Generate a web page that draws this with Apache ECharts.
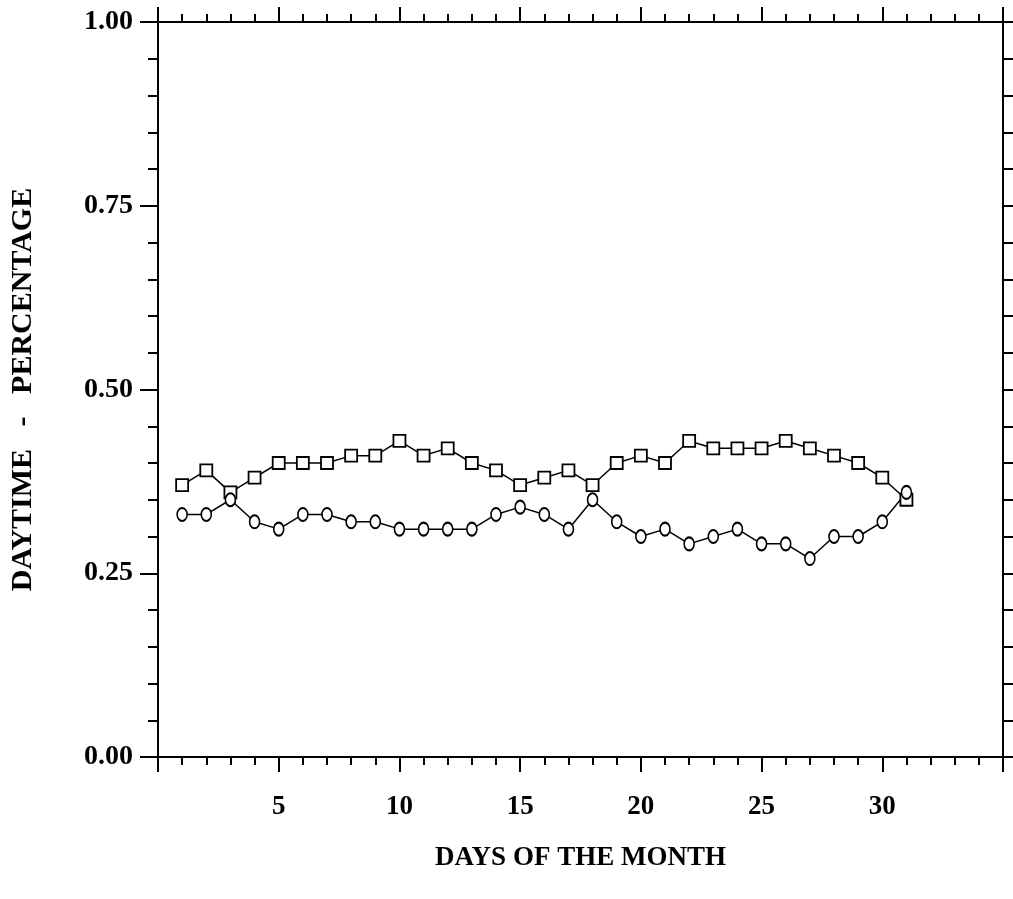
<!DOCTYPE html>
<html>
<head>
<meta charset="utf-8">
<script src="https://cdn.jsdelivr.net/npm/echarts@6/dist/echarts.min.js"></script>
<style>
html,body{margin:0;padding:0;background:#fff;}
#chart{width:1013px;height:899px;}
</style>
</head>
<body>
<div id="chart"></div>
<script>
var days = [1,2,3,4,5,6,7,8,9,10,11,12,13,14,15,16,17,18,19,20,21,22,23,24,25,26,27,28,29,30,31];
var squareValues = [0.37,0.39,0.36,0.38,0.40,0.40,0.40,0.41,0.41,0.43,0.41,0.42,0.40,0.39,0.37,0.38,0.39,0.37,0.40,0.41,0.40,0.43,0.42,0.42,0.42,0.43,0.42,0.41,0.40,0.38,0.35];
var circleValues = [0.33,0.33,0.35,0.32,0.31,0.33,0.33,0.32,0.32,0.31,0.31,0.31,0.31,0.33,0.34,0.33,0.31,0.35,0.32,0.30,0.31,0.29,0.30,0.31,0.29,0.29,0.27,0.30,0.30,0.32,0.36];
var xTickLabels = ['5','10','15','20','25','30'];
var yTickLabels = ['0.00','0.25','0.50','0.75','1.00'];
var xTitle = 'DAYS OF THE MONTH';
var yTitle = 'DAYTIME   -   PERCENTAGE';

function pairs(xs, ys){ return xs.map(function(x,i){ return [x, ys[i]]; }); }

var font = 'Liberation Serif';
var axisLine = {show:true, onZero:false, lineStyle:{color:'#000', width:2}};
var chart = echarts.init(document.getElementById('chart'));
chart.setOption({
  backgroundColor:'#fff',
  animation:false,
  grid:{left:156, right:10, top:22, bottom:142, containLabel:false},
  xAxis:[{
    type:'value', min:0, max:35, interval:5, position:'bottom',
    axisLine:axisLine,
    axisTick:{show:true, inside:false, length:15, lineStyle:{color:'#000', width:2}},
    minorTick:{show:true, splitNumber:5, length:8, lineStyle:{color:'#000', width:2}},
    splitLine:{show:false},
    axisLabel:{margin:37, color:'#000', fontFamily:font, fontWeight:'bold', fontSize:27,
      formatter:function(v){ var s=String(v); return xTickLabels.indexOf(s)>=0 ? s : ''; }},
    name:xTitle, nameLocation:'middle', nameGap:88,
    nameTextStyle:{color:'#000', fontFamily:font, fontWeight:'bold', fontSize:27, verticalAlign:'top'}
  },{
    type:'value', min:0, max:35, interval:5, position:'top',
    axisLine:axisLine,
    axisTick:{show:true, inside:false, length:15, lineStyle:{color:'#000', width:2}},
    minorTick:{show:true, splitNumber:5, length:8, lineStyle:{color:'#000', width:2}},
    splitLine:{show:false}, axisLabel:{show:false}
  }],
  yAxis:[{
    type:'value', min:0, max:1, interval:0.25, position:'left',
    axisLine:axisLine,
    axisTick:{show:true, inside:false, length:18, lineStyle:{color:'#000', width:2}},
    minorTick:{show:true, splitNumber:5, length:10, lineStyle:{color:'#000', width:2}},
    splitLine:{show:false},
    axisLabel:{margin:25, color:'#000', fontFamily:font, fontWeight:'bold', fontSize:28,
      formatter:function(v){ return yTickLabels[Math.round(v/0.25)]; }},
    name:yTitle, nameLocation:'middle', nameGap:120, nameRotate:90,
    nameTextStyle:{color:'#000', fontFamily:font, fontWeight:'bold', fontSize:30}
  },{
    type:'value', min:0, max:1, interval:0.25, position:'right',
    axisLine:axisLine,
    axisTick:{show:true, inside:false, length:10, lineStyle:{color:'#000', width:2}},
    minorTick:{show:true, splitNumber:5, length:10, lineStyle:{color:'#000', width:2}},
    splitLine:{show:false}, axisLabel:{show:false}
  }],
  series:[{
    type:'line', xAxisIndex:0, yAxisIndex:0,
    data:pairs(days, squareValues),
    symbol:'rect', symbolSize:12,
    lineStyle:{color:'#000', width:1.5},
    itemStyle:{color:'#fff', borderColor:'#000', borderWidth:1.8},
    z:3
  },{
    type:'line', xAxisIndex:0, yAxisIndex:0,
    data:pairs(days, circleValues),
    symbol:'circle', symbolSize:[10,13],
    lineStyle:{color:'#000', width:1.5},
    itemStyle:{color:'#fff', borderColor:'#000', borderWidth:1.8},
    z:3
  }]
});
</script>
</body>
</html>
